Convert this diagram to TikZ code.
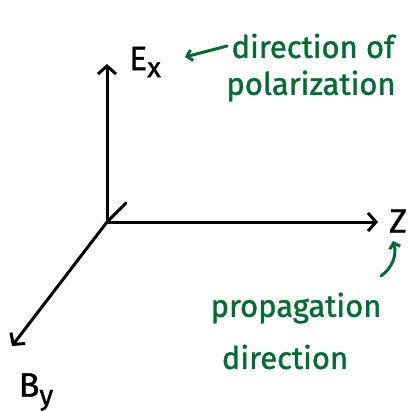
\documentclass[tikz,border=0pt]{standalone}
\usepackage{fontspec}
\setmainfont{Fira Sans}
\newfontfamily\penfont[FakeBold=1.2]{Fira Sans}
\usetikzlibrary{arrows.meta}
\definecolor{pen}{RGB}{0,110,50}
\begin{document}
\begin{tikzpicture}[x=1pt,y=-1pt,
  axis/.style={line width=3pt, line cap=round, line join=round},
  axtip/.style={-{Straight Barb[length=8pt,width=18pt,line width=3pt]}},
  gline/.style={pen, line width=3pt, line cap=round, -{Straight Barb[length=5pt,width=11pt,line width=3pt]}},
  gtext/.style={pen, font=\penfont\fontsize{31}{34}\selectfont, inner sep=0pt, anchor=center},
  btext/.style={black, font=\penfont\fontsize{34}{36}\selectfont, inner sep=0pt}]
\useasboundingbox (0,0) rectangle (409,411);
\coordinate (O) at (107,222);
\coordinate (Etip) at (107,64);
\coordinate (Ztip) at (378,222);
\coordinate (Btip) at (12,346);
\coordinate (stub) at (126,203);
\draw[axis,axtip] (O) -- (Etip);
\draw[axis,axtip] (O) -- (Ztip);
\draw[axis,axtip] (O) -- (Btip);
\draw[axis] (O) -- (stub);
\node[btext] (Ex) at (145,62) {E\raisebox{-7pt}{\fontsize{28}{30}\selectfont x}};
\node[btext] (Z) at (398,221) {Z};
\node[btext] (By) at (36,392) {B\raisebox{-8pt}{\fontsize{28}{30}\selectfont y}};
\node[gtext] (pol1) at (313,46) {direction of};
\node[gtext] (pol2) at (311,86) {polarization};
\node[gtext] (prop1) at (296,308) {propagation};
\node[gtext] (prop2) at (285,357) {direction};
\coordinate (g1s) at (227,46);
\coordinate (g1e) at (185,57);
\draw[gline] (g1s) -- (g1e);
\coordinate (g2s) at (381,276);
\coordinate (g2e) at (393,241);
\draw[gline] (g2s) to[bend right=35] (g2e);
\end{tikzpicture}
\end{document}
